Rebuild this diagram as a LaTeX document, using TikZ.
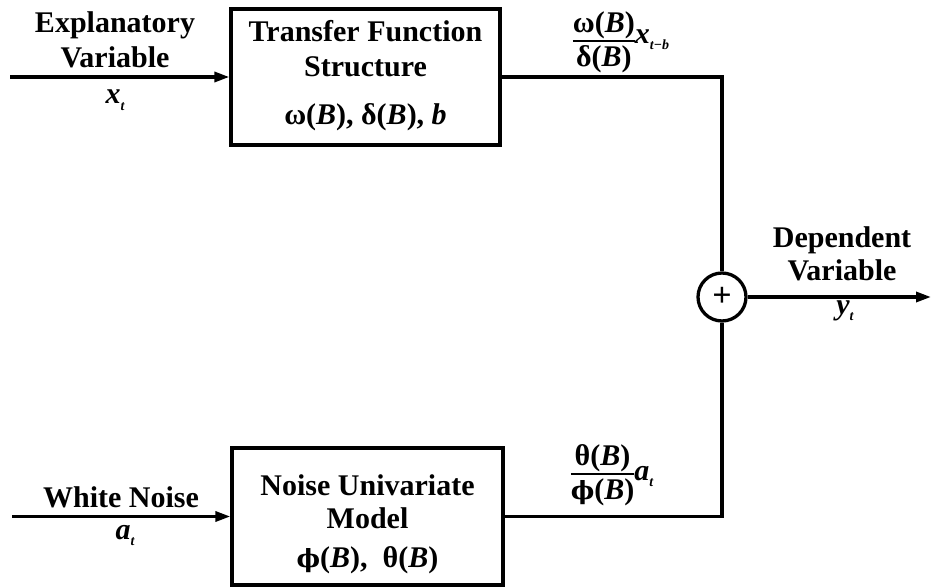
\documentclass[tikz,border=0pt]{standalone}
\usepackage{fontspec}
\setmainfont{Liberation Serif}
\newfontfamily\phifont{DejaVu Serif}
\usetikzlibrary{arrows.meta}
\newcommand{\vr}[1]{{\bfseries\itshape #1}}
\newcommand{\ph}{{\phifont\bfseries\fontsize{25}{30}\selectfont ϕ}}
\newcommand{\sbs}[1]{\raisebox{-0.45ex}{\fontsize{14}{14}\selectfont\bfseries\itshape #1}}
\newcommand{\myfrac}[2]{$\vcenter{\halign{\hfil##\hfil\cr #1\cr\noalign{\kern1pt\hrule height 2.8pt\kern3pt}#2\cr}}$}
\tikzset{
  txt/.style={font=\fontsize{30}{34}\selectfont\bfseries, inner sep=0pt, align=center},
  blk/.style={draw, line width=3.3pt, inner sep=0pt},
  ln/.style={line width=3.3pt},
  arr/.style={line width=3.3pt, -{Triangle[length=15pt,width=10pt]}},
  sumc/.style={draw, circle, line width=3.3pt, minimum size=48pt, inner sep=0pt, font=\fontsize{34}{34}\selectfont\bfseries}
}
\begin{document}
\begin{tikzpicture}[x=1pt,y=-1pt]
\useasboundingbox (0,0) rectangle (933,588);
% blocks
\node[blk, minimum width=269pt, minimum height=136pt] (tf) at (365.5,77) {};
\node[blk, minimum width=271pt, minimum height=137pt] (nm) at (367.5,516.5) {};
\node[sumc] (sum) at (722,297) {+};
% free ends
\coordinate (inx) at (10,77);
\coordinate (ina) at (12,516.5);
\coordinate (outy) at (931,297);
% connectors
\draw[arr] (inx) -- (tf.west);
\draw[arr] (ina) -- (nm.west);
\draw[ln] (tf.east) -- (tf.east -| sum.north) -- (sum.north);
\draw[ln] (nm.east) -- (nm.east -| sum.south) -- (sum.south);
\draw[arr] (sum.east) -- (outy);
% block texts
\node[txt, anchor=base] (tf1) at (365.5,42) {Transfer Function};
\node[txt, anchor=base] (tf2) at (365.5,77) {Structure};
\node[txt, anchor=base] (tf3) at (365.5,125) {ω(\vr{B}), δ(\vr{B}), \vr{b}};
\node[txt, anchor=base] (nm1) at (367.5,495) {Noise Univariate};
\node[txt, anchor=base] (nm2) at (367.5,528) {Model};
\node[txt, anchor=base] (nm3) at (367.5,567) {\ph(\vr{B}),\ \ θ(\vr{B})};
% input labels
\node[txt, anchor=base] (ex1) at (115,33) {Explanatory};
\node[txt, anchor=base] (ex2) at (115,68) {Variable};
\node[txt, anchor=base] (ex3) at (115,104) {\vr{x}\sbs{t}};
\node[txt, anchor=base] (wn1) at (121,507) {White Noise};
\node[txt, anchor=base] (wn2) at (125,539) {\vr{a}\sbs{t}};
% output labels
\node[txt, anchor=base] (dv1) at (842,247) {Dependent};
\node[txt, anchor=base] (dv2) at (842,280) {Variable};
\node[txt, anchor=base] (dv3) at (845,314) {\vr{y}\sbs{t}};
% fractions
\node[txt] (f1) at (621,42) {\myfrac{ω(\vr{B})}{δ(\vr{B})}\raisebox{5pt}{\vr{x}\sbs{t−b}}};
\node[txt] (f2) at (612,475) {\myfrac{θ(\vr{B})}{\ph(\vr{B})}\raisebox{1pt}{\vr{a}\sbs{t}}};
\end{tikzpicture}
\end{document}
